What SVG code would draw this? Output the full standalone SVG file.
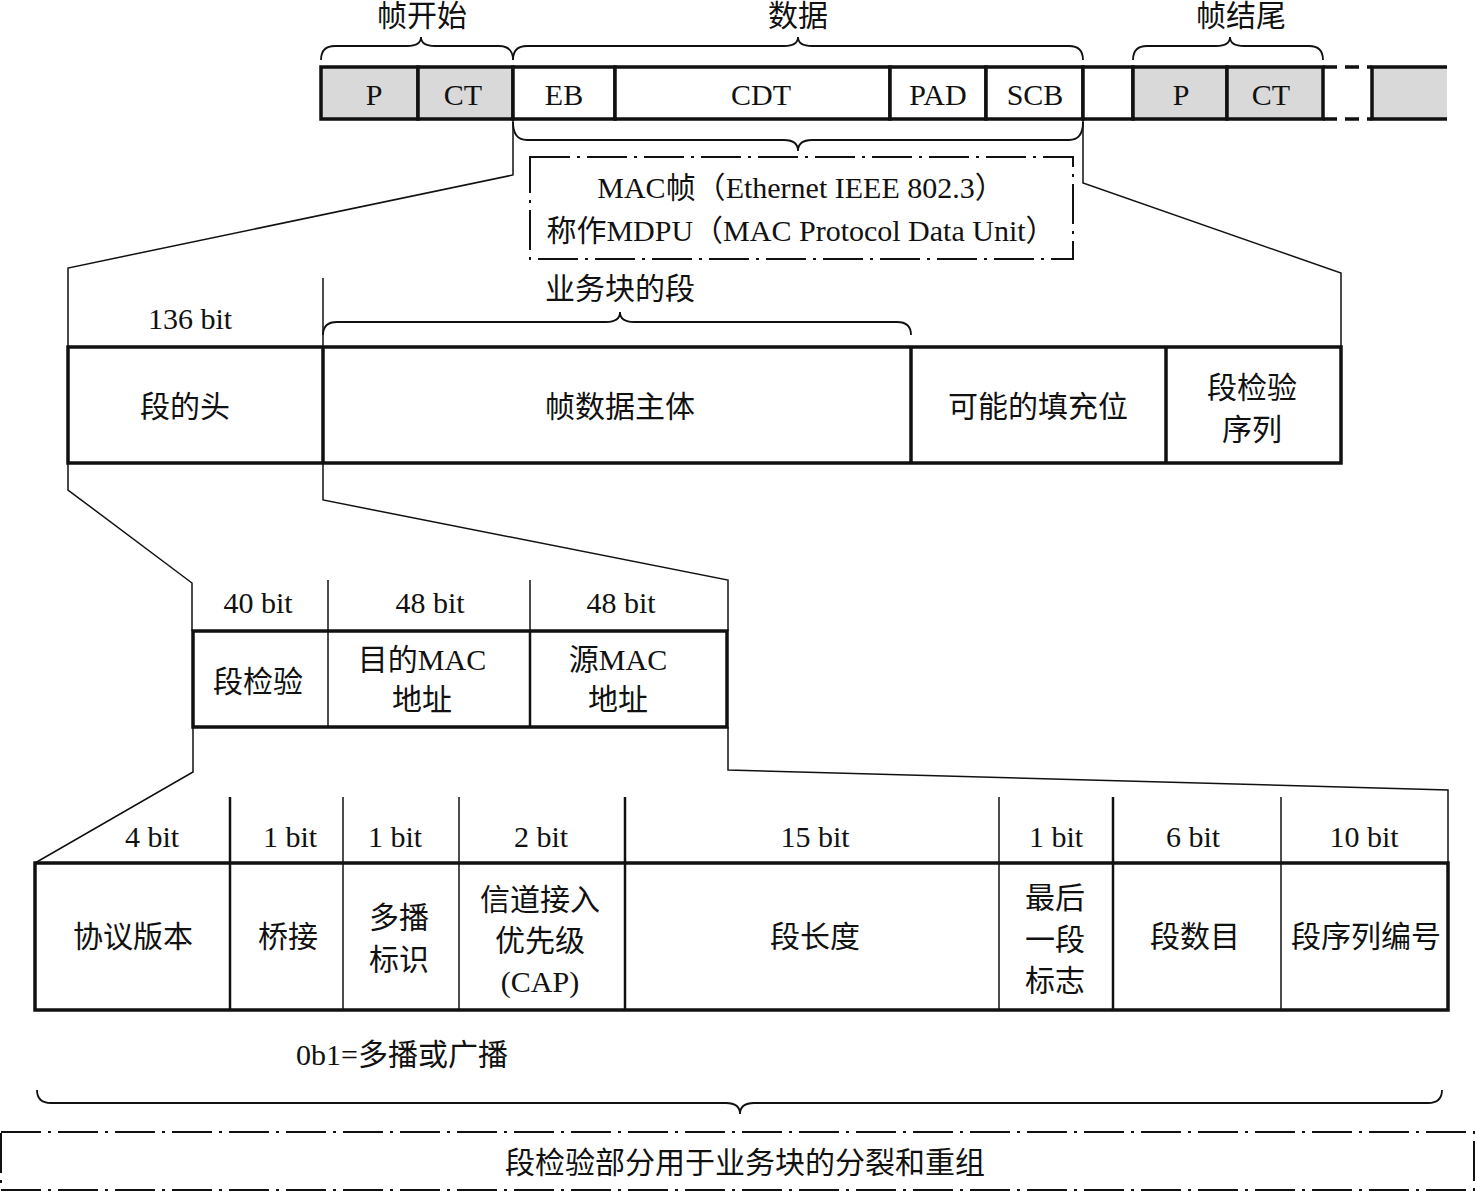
<svg xmlns="http://www.w3.org/2000/svg" width="1476" height="1193" viewBox="0 0 1476 1193">
<style>
text{font-family:"Liberation Serif","Noto Sans CJK SC",serif;font-size:30px;fill:#111;text-anchor:middle}
.lat{font-family:"Liberation Serif",serif}
.cell{fill:#fff;stroke:#111;stroke-width:3.5}
.gray{fill:#d9d9d9;stroke:#111;stroke-width:3.5}
.thin{fill:none;stroke:#111;stroke-width:1.5}
.mid{fill:none;stroke:#111;stroke-width:2.5}
.brace{fill:none;stroke:#111;stroke-width:1.8}
.dd{fill:none;stroke:#111;stroke-width:2;stroke-dasharray:40 7 3 7}
</style>
<rect width="1476" height="1193" fill="#fff"/>

<g id="connectors">
<polyline class="thin" points="513,119 513,175 68,268 68,347"/>
<polyline class="thin" points="1083,119 1083,183 1341,273 1341,347"/>
<line class="thin" x1="323" y1="278" x2="323" y2="347"/>
<polyline class="thin" points="68,463 68,490 192,583 192,631"/>
<polyline class="thin" points="323,463 323,500 728,580 728,631"/>
<line class="thin" x1="328" y1="580" x2="328" y2="631"/>
<line class="thin" x1="530" y1="580" x2="530" y2="631"/>
<polyline class="thin" points="193,727 193,772 35,863"/>
<polyline class="thin" points="728,727 728,770 1448,790 1448,863"/>
<line class="mid" x1="230" y1="797" x2="230" y2="863"/>
<line class="thin" x1="343" y1="797" x2="343" y2="863"/>
<line class="thin" x1="459" y1="797" x2="459" y2="863"/>
<line class="mid" x1="625" y1="797" x2="625" y2="863"/>
<line class="thin" x1="999" y1="797" x2="999" y2="863"/>
<line class="mid" x1="1113" y1="797" x2="1113" y2="863"/>
<line class="thin" x1="1281" y1="797" x2="1281" y2="863"/>
</g>

<g id="braces">
<path class="brace" d="M321,60 Q321,46 335,46 L407,46 Q421,46 421,37 Q421,46 435,46 L499,46 Q513,46 513,60"/>
<path class="brace" d="M513,60 Q513,46 527,46 L784,46 Q798,46 798,37 Q798,46 812,46 L1069,46 Q1083,46 1083,60"/>
<path class="brace" d="M1133,60 Q1133,46 1147,46 L1216,46 Q1230,46 1230,37 Q1230,46 1244,46 L1309,46 Q1323,46 1323,60"/>
<path class="brace" d="M513,122 Q513,140 527,140 L784,140 Q798,140 798,151 Q798,140 812,140 L1069,140 Q1083,140 1083,122"/>
<path class="brace" d="M323,335 Q323,322 337,322 L606,322 Q620,322 620,312 Q620,322 634,322 L897,322 Q911,322 911,335"/>
<path class="brace" d="M37,1090 Q37,1103 51,1103 L726,1103 Q740,1103 740,1114 Q740,1103 754,1103 L1428,1103 Q1442,1103 1442,1090"/>
</g>

<g id="top-labels">
<text x="422" y="26">帧开始</text>
<text x="798" y="26">数据</text>
<text x="1241" y="26">帧结尾</text>
</g>

<g id="frame-row">
<rect class="gray" x="321" y="67" width="97" height="52"/>
<rect class="gray" x="418" y="67" width="95" height="52"/>
<rect class="cell" x="513" y="67" width="102" height="52"/>
<rect class="cell" x="615" y="67" width="275" height="52"/>
<rect class="cell" x="890" y="67" width="96" height="52"/>
<rect class="cell" x="986" y="67" width="97" height="52"/>
<rect class="cell" x="1083" y="67" width="50" height="52"/>
<rect class="gray" x="1133" y="67" width="94" height="52"/>
<rect class="gray" x="1227" y="67" width="96" height="52"/>
<rect x="1372" y="67" width="75" height="52" fill="#d9d9d9"/>
<polyline points="1447,67 1372,67 1372,119 1447,119" fill="none" stroke="#111" stroke-width="3.5"/>
<line x1="1323" y1="67" x2="1372" y2="67" stroke="#111" stroke-width="3.5" stroke-dasharray="14 8"/>
<line x1="1323" y1="119" x2="1372" y2="119" stroke="#111" stroke-width="3.5" stroke-dasharray="14 8"/>
<text x="374" y="105">P</text>
<text x="463" y="105">CT</text>
<text x="564" y="105">EB</text>
<text x="761" y="105">CDT</text>
<text x="938" y="105">PAD</text>
<text x="1035" y="105">SCB</text>
<text x="1181" y="105">P</text>
<text x="1271" y="105">CT</text>
</g>

<g id="mac-box">
<rect class="dd" x="530" y="157" width="543" height="102"/>
<text x="801" y="198" font-size="28"><tspan class="lat">MAC</tspan>帧（<tspan class="lat">Ethernet IEEE 802.3</tspan>）</text>
<text x="801" y="241" font-size="28">称作<tspan class="lat">MDPU</tspan>（<tspan class="lat">MAC Protocol Data Unit</tspan>）</text>
</g>

<g id="segment-row">
<text x="190" y="329">136 bit</text>
<text x="620" y="299">业务块的段</text>
<rect class="cell" x="68" y="347" width="1273" height="116"/>
<line x1="323" y1="347" x2="323" y2="463" stroke="#111" stroke-width="3.5"/>
<line x1="911" y1="347" x2="911" y2="463" stroke="#111" stroke-width="3.5"/>
<line x1="1166" y1="347" x2="1166" y2="463" stroke="#111" stroke-width="3.5"/>
<text x="185" y="417">段的头</text>
<text x="620" y="417">帧数据主体</text>
<text x="1038" y="417">可能的填充位</text>
<text x="1252" y="398">段检验</text>
<text x="1252" y="440">序列</text>
</g>

<g id="header-row">
<text x="258" y="613">40 bit</text>
<text x="430" y="613">48 bit</text>
<text x="621" y="613">48 bit</text>
<rect class="cell" x="193" y="631" width="534" height="96"/>
<line class="thin" x1="328" y1="631" x2="328" y2="727"/>
<line class="mid" x1="530" y1="631" x2="530" y2="727"/>
<text x="258" y="692">段检验</text>
<text x="422" y="670">目的<tspan class="lat">MAC</tspan></text>
<text x="422" y="710">地址</text>
<text x="618" y="670">源<tspan class="lat">MAC</tspan></text>
<text x="618" y="710">地址</text>
</g>

<g id="field-row">
<text x="152" y="847">4 bit</text>
<text x="290" y="847">1 bit</text>
<text x="395" y="847">1 bit</text>
<text x="541" y="847">2 bit</text>
<text x="815" y="847">15 bit</text>
<text x="1056" y="847">1 bit</text>
<text x="1193" y="847">6 bit</text>
<text x="1364" y="847">10 bit</text>
<rect class="cell" x="35" y="863" width="1413" height="147"/>
<line class="mid" x1="230" y1="863" x2="230" y2="1010"/>
<line class="thin" x1="343" y1="863" x2="343" y2="1010"/>
<line class="thin" x1="459" y1="863" x2="459" y2="1010"/>
<line class="mid" x1="625" y1="863" x2="625" y2="1010"/>
<line class="thin" x1="999" y1="863" x2="999" y2="1010"/>
<line class="mid" x1="1113" y1="863" x2="1113" y2="1010"/>
<line class="thin" x1="1281" y1="863" x2="1281" y2="1010"/>
<text x="133" y="947">协议版本</text>
<text x="288" y="947">桥接</text>
<text x="399" y="928">多播</text>
<text x="399" y="970">标识</text>
<text x="540" y="910">信道接入</text>
<text x="540" y="951">优先级</text>
<text x="540" y="992" class="lat">(CAP)</text>
<text x="815" y="947">段长度</text>
<text x="1055" y="908">最后</text>
<text x="1055" y="950">一段</text>
<text x="1055" y="991">标志</text>
<text x="1195" y="947">段数目</text>
<text x="1366" y="947">段序列编号</text>
<text x="402" y="1065"><tspan class="lat">0b1=</tspan>多播或广播</text>
</g>

<g id="note-box">
<rect class="dd" x="1" y="1132" width="1473" height="58" stroke-width="2.5"/>
<text x="745" y="1173" font-size="32">段检验部分用于业务块的分裂和重组</text>
</g>
</svg>
